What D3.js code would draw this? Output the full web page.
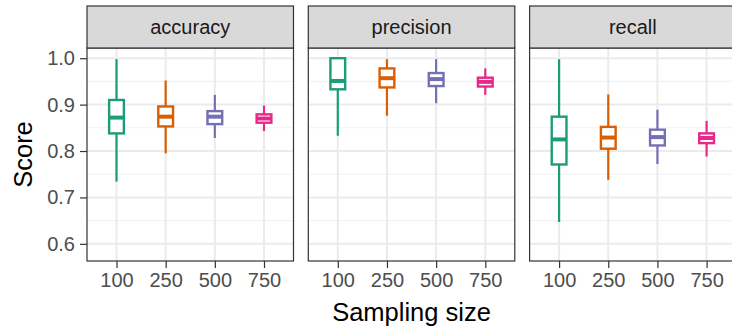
<!DOCTYPE html>
<meta charset="utf-8">
<body style="margin:0; background:#fff;">
<script src="https://d3js.org/d3.v7.min.js"></script>
<svg id="chart" width="732" height="333"></svg>
<script>
// facets, groups and colours
var metrics = ["accuracy", "precision", "recall"];
var sizes = ["100", "250", "500", "750"];
var colors = ["#1B9E77", "#D95F02", "#7570B3", "#E7298A"];
var yTicks = [0.6, 0.7, 0.8, 0.9, 1.0];
var yMinor = [0.65, 0.75, 0.85, 0.95];

// box stats per sampling size: [lower whisker, q1, median, q3, upper whisker]
var accuracyStats = [
  [0.734, 0.838, 0.872, 0.910, 0.998],
  [0.795, 0.853, 0.874, 0.896, 0.952],
  [0.828, 0.858, 0.874, 0.886, 0.921],
  [0.843, 0.861, 0.870, 0.879, 0.898]
];
var precisionStats = [
  [0.833, 0.933, 0.951, 1.000, 1.000],
  [0.876, 0.937, 0.957, 0.978, 0.998],
  [0.903, 0.940, 0.955, 0.968, 0.998],
  [0.921, 0.939, 0.949, 0.958, 0.978]
];
var recallStats = [
  [0.647, 0.771, 0.825, 0.874, 0.998],
  [0.738, 0.805, 0.829, 0.852, 0.922],
  [0.772, 0.812, 0.830, 0.846, 0.889],
  [0.788, 0.817, 0.828, 0.838, 0.865]
];
var allStats = [accuracyStats, precisionStats, recallStats];

var svg = d3.select("#chart");
var font = "'Liberation Sans', Arial, sans-serif";

var panelW = 206.5, panelTop = 48, panelBottom = 261, stripTop = 6;
var panelLeft = [87, 308.3, 529.6];

var y = d3.scaleLinear().domain([0.563, 1.022]).range([panelBottom, panelTop]);
var x = d3.scalePoint().domain(sizes).range([0, panelW]).padding(0.6);
var boxW = x.step() * 0.3;

metrics.forEach(function(m, i) {
  var g = svg.append("g").attr("transform", "translate(" + panelLeft[i] + ",0)");

  // grid
  g.selectAll(".minor").data(yMinor).enter().append("line")
    .attr("x1", 0).attr("x2", panelW)
    .attr("y1", d => y(d)).attr("y2", d => y(d))
    .attr("stroke", "#F2F2F2").attr("stroke-width", 1.1);
  g.selectAll(".major").data(yTicks).enter().append("line")
    .attr("x1", 0).attr("x2", panelW)
    .attr("y1", d => y(d)).attr("y2", d => y(d))
    .attr("stroke", "#EBEBEB").attr("stroke-width", 2);
  g.selectAll(".vmajor").data(sizes).enter().append("line")
    .attr("x1", d => x(d)).attr("x2", d => x(d))
    .attr("y1", panelTop).attr("y2", panelBottom)
    .attr("stroke", "#EBEBEB").attr("stroke-width", 2);

  // boxes
  var stats = allStats[i];
  var bx = g.selectAll(".box").data(sizes).enter().append("g");
  bx.append("line")
    .attr("x1", d => x(d)).attr("x2", d => x(d))
    .attr("y1", (d, j) => y(stats[j][4])).attr("y2", (d, j) => y(stats[j][3]))
    .attr("stroke", (d, j) => colors[j]).attr("stroke-width", 2.2);
  bx.append("line")
    .attr("x1", d => x(d)).attr("x2", d => x(d))
    .attr("y1", (d, j) => y(stats[j][1])).attr("y2", (d, j) => y(stats[j][0]))
    .attr("stroke", (d, j) => colors[j]).attr("stroke-width", 2.2);
  bx.append("rect")
    .attr("x", d => x(d) - boxW / 2).attr("width", boxW)
    .attr("y", (d, j) => y(stats[j][3]))
    .attr("height", (d, j) => y(stats[j][1]) - y(stats[j][3]))
    .attr("fill", "#fff").attr("stroke", (d, j) => colors[j]).attr("stroke-width", 2.4);
  bx.append("line")
    .attr("x1", d => x(d) - boxW / 2).attr("x2", d => x(d) + boxW / 2)
    .attr("y1", (d, j) => y(stats[j][2])).attr("y2", (d, j) => y(stats[j][2]))
    .attr("stroke", (d, j) => colors[j]).attr("stroke-width", 4);

  // panel border
  g.append("rect").attr("x", 0).attr("y", panelTop).attr("width", panelW)
    .attr("height", panelBottom - panelTop)
    .attr("fill", "none").attr("stroke", "#333").attr("stroke-width", 1.2);

  // strip
  g.append("rect").attr("x", 0).attr("y", stripTop).attr("width", panelW)
    .attr("height", panelTop - stripTop)
    .attr("fill", "#D9D9D9").attr("stroke", "#333").attr("stroke-width", 1.2);
  g.append("text").attr("x", panelW / 2).attr("y", (stripTop + panelTop) / 2)
    .attr("dy", "0.35em").attr("text-anchor", "middle")
    .style("font-family", font).style("font-size", "20px").attr("fill", "#1A1A1A")
    .text(m);

  // x axis
  var xa = g.append("g").attr("transform", "translate(0," + panelBottom + ")")
    .call(d3.axisBottom(x).tickSize(7).tickPadding(5));
  xa.select(".domain").remove();
  xa.selectAll(".tick line").attr("stroke", "#333").attr("stroke-width", 1.2);
  xa.selectAll(".tick text").style("font-family", font).style("font-size", "20px").attr("fill", "#4D4D4D");

  // y axis on first panel
  if (i === 0) {
    var ya = g.append("g")
      .call(d3.axisLeft(y).tickValues(yTicks).tickFormat(d3.format(".1f")).tickSize(7).tickPadding(5));
    ya.select(".domain").remove();
    ya.selectAll(".tick line").attr("stroke", "#333").attr("stroke-width", 1.2);
    ya.selectAll(".tick text").style("font-family", font).style("font-size", "20px").attr("fill", "#4D4D4D");
  }
});

// axis titles
svg.append("text")
  .attr("transform", "translate(32," + (panelTop + panelBottom) / 2 + ") rotate(-90)")
  .attr("text-anchor", "middle")
  .style("font-family", font).style("font-size", "25.5px").attr("fill", "#000")
  .text("Score");
svg.append("text")
  .attr("x", (panelLeft[0] + panelLeft[2] + panelW) / 2).attr("y", 321)
  .attr("text-anchor", "middle")
  .style("font-family", font).style("font-size", "25.5px").attr("fill", "#000")
  .text("Sampling size");
</script>
</body>
